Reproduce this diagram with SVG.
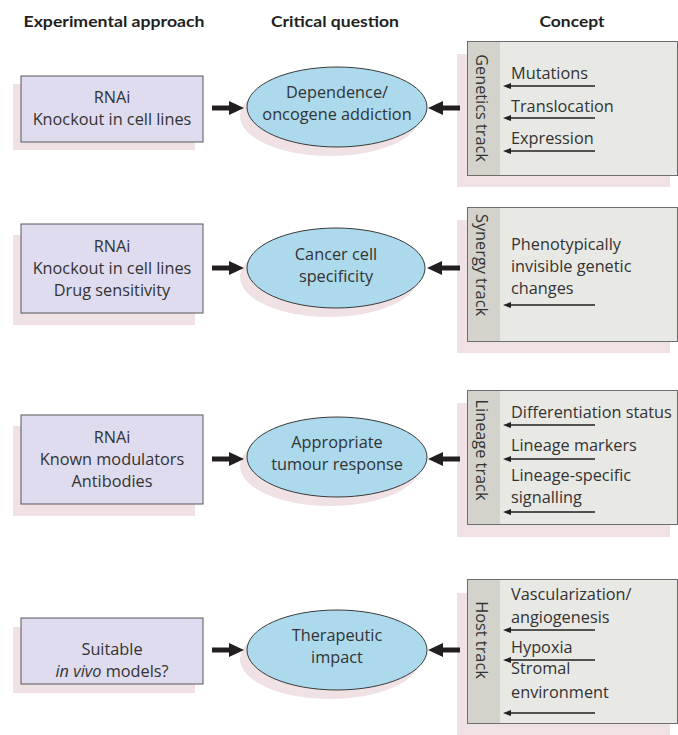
<svg xmlns="http://www.w3.org/2000/svg" width="678" height="735" viewBox="0 0 678 735">
<defs>
<style>
.hdr{font-family:Lato,"Liberation Sans",sans-serif;font-weight:bold;font-size:16px;fill:#231f20;text-anchor:middle}
.t{font-family:"Open Sans","Liberation Sans",sans-serif;font-size:16.3px;fill:#333}
.c{text-anchor:middle}
.shadow{fill:#efe1e4}
.box{fill:#dedcee;stroke:#58585a;stroke-width:1}
.ell{fill:#acd9eb;stroke:#3a3a3a;stroke-width:1}
.cbox{fill:#e8e8e4;stroke:#6d6d6d;stroke-width:1}
.side{fill:#d3d3cb}
.thick{stroke:#231f20;stroke-width:5;fill:none}
.thin{stroke:#231f20;stroke-width:1.6;fill:none}
</style>
<marker id="bigHead" markerUnits="userSpaceOnUse" markerWidth="16" markerHeight="16" refX="6" refY="8" orient="auto">
<path d="M0,1 L15,8 L0,15 z" fill="#231f20"/>
</marker>
<marker id="smallHead" markerUnits="userSpaceOnUse" markerWidth="10" markerHeight="8" refX="2" refY="4" orient="auto">
<path d="M0,1 L8,4 L0,7 z" fill="#231f20"/>
</marker>
</defs>
<rect width="678" height="735" fill="#ffffff"/>

<g id="headers">
<text class="hdr" x="114" y="27" textLength="181" lengthAdjust="spacingAndGlyphs">Experimental approach</text>
<text class="hdr" x="335" y="27" textLength="128" lengthAdjust="spacingAndGlyphs">Critical question</text>
<text class="hdr" x="572" y="27" textLength="65" lengthAdjust="spacingAndGlyphs">Concept</text>
</g>

<!-- Row 1 -->
<g id="approach1">
<rect class="shadow" x="13" y="84" width="182" height="66"/>
<rect class="box" x="21" y="76" width="182" height="66"/>
<text class="t c" x="112" y="103">RNAi</text>
<text class="t c" x="112" y="125">Knockout in cell lines</text>
</g>
<g id="question1">
<ellipse class="shadow" cx="330" cy="116" rx="90" ry="40"/>
<ellipse class="ell" cx="337" cy="107" rx="90" ry="40"/>
<text class="t c" x="337" y="98">Dependence/</text>
<text class="t c" x="337" y="120">oncogene addiction</text>
</g>
<g id="concept1">
<rect class="shadow" x="457" y="54" width="213" height="133"/>
<rect class="cbox" x="467.5" y="41.5" width="210" height="134"/>
<rect class="side" x="468" y="42" width="32" height="133"/>
<text class="t c" transform="translate(476,108) rotate(90)">Genetics track</text>
<text class="t" x="511" y="79">Mutations</text>
<text class="t" x="511" y="112">Translocation</text>
<text class="t" x="511" y="144">Expression</text>
</g>

<!-- Row 2 -->
<g id="approach2">
<rect class="shadow" x="13" y="235" width="182" height="90"/>
<rect class="box" x="21" y="224" width="182" height="89"/>
<text class="t c" x="112" y="252">RNAi</text>
<text class="t c" x="112" y="274">Knockout in cell lines</text>
<text class="t c" x="112" y="296">Drug sensitivity</text>
</g>
<g id="question2">
<ellipse class="shadow" cx="329" cy="277" rx="89" ry="40"/>
<ellipse class="ell" cx="336" cy="268" rx="89" ry="40"/>
<text class="t c" x="336" y="260">Cancer cell</text>
<text class="t c" x="336" y="282">specificity</text>
</g>
<g id="concept2">
<rect class="shadow" x="457" y="220" width="213" height="133"/>
<rect class="cbox" x="467.5" y="207.5" width="210" height="134"/>
<rect class="side" x="468" y="208" width="32" height="133"/>
<text class="t c" transform="translate(476,265) rotate(90)">Synergy track</text>
<text class="t" x="511" y="250">Phenotypically</text>
<text class="t" x="511" y="272">invisible genetic</text>
<text class="t" x="511" y="294">changes</text>
</g>

<!-- Row 3 -->
<g id="approach3">
<rect class="shadow" x="13" y="426" width="182" height="90"/>
<rect class="box" x="21" y="415" width="182" height="89"/>
<text class="t c" x="112" y="443">RNAi</text>
<text class="t c" x="112" y="465">Known modulators</text>
<text class="t c" x="112" y="487">Antibodies</text>
</g>
<g id="question3">
<ellipse class="shadow" cx="330" cy="466" rx="90" ry="40"/>
<ellipse class="ell" cx="337" cy="457" rx="90" ry="40"/>
<text class="t c" x="337" y="448">Appropriate</text>
<text class="t c" x="337" y="470">tumour response</text>
</g>
<g id="concept3">
<rect class="shadow" x="457" y="403" width="213" height="134"/>
<rect class="cbox" x="467.5" y="390.5" width="210" height="134"/>
<rect class="side" x="468" y="391" width="32" height="133"/>
<text class="t c" transform="translate(476,450) rotate(90)">Lineage track</text>
<text class="t" x="511" y="418">Differentiation status</text>
<text class="t" x="511" y="451">Lineage markers</text>
<text class="t" x="511" y="481">Lineage-specific</text>
<text class="t" x="511" y="503">signalling</text>
</g>

<!-- Row 4 -->
<g id="approach4">
<rect class="shadow" x="13" y="627" width="182" height="66"/>
<rect class="box" x="21" y="618" width="182" height="66"/>
<text class="t c" x="112" y="655">Suitable</text>
<text class="t c" x="112" y="677"><tspan font-style="italic">in vivo</tspan> models?</text>
</g>
<g id="question4">
<ellipse class="shadow" cx="330" cy="659" rx="90" ry="40"/>
<ellipse class="ell" cx="337" cy="650" rx="90" ry="40"/>
<text class="t c" x="337" y="641">Therapeutic</text>
<text class="t c" x="337" y="663">impact</text>
</g>
<g id="concept4">
<rect class="shadow" x="457" y="593" width="213" height="142"/>
<rect class="cbox" x="467.5" y="579.5" width="210" height="144"/>
<rect class="side" x="468" y="580" width="32" height="143"/>
<text class="t c" transform="translate(476,640) rotate(90)">Host track</text>
<text class="t" x="511" y="600">Vascularization/</text>
<text class="t" x="511" y="623">angiogenesis</text>
<text class="t" x="511" y="653">Hypoxia</text>
<text class="t" x="511" y="674">Stromal</text>
<text class="t" x="511" y="698">environment</text>
</g>

<g id="connectors">
<line class="thick" x1="212" y1="108" x2="235" y2="108" marker-end="url(#bigHead)"/>
<line class="thick" x1="460" y1="108" x2="437" y2="108" marker-end="url(#bigHead)"/>
<line class="thick" x1="212" y1="268" x2="235" y2="268" marker-end="url(#bigHead)"/>
<line class="thick" x1="460" y1="268" x2="436" y2="268" marker-end="url(#bigHead)"/>
<line class="thick" x1="212" y1="459" x2="235" y2="459" marker-end="url(#bigHead)"/>
<line class="thick" x1="460" y1="459" x2="437" y2="459" marker-end="url(#bigHead)"/>
<line class="thick" x1="212" y1="650" x2="235" y2="650" marker-end="url(#bigHead)"/>
<line class="thick" x1="460" y1="650" x2="437" y2="650" marker-end="url(#bigHead)"/>

<line class="thin" x1="595" y1="86" x2="509" y2="86" marker-end="url(#smallHead)"/>
<line class="thin" x1="595" y1="118" x2="509" y2="118" marker-end="url(#smallHead)"/>
<line class="thin" x1="595" y1="151" x2="509" y2="151" marker-end="url(#smallHead)"/>
<line class="thin" x1="595" y1="305" x2="509" y2="305" marker-end="url(#smallHead)"/>
<line class="thin" x1="595" y1="425" x2="509" y2="425" marker-end="url(#smallHead)"/>
<line class="thin" x1="595" y1="459" x2="509" y2="459" marker-end="url(#smallHead)"/>
<line class="thin" x1="595" y1="512" x2="509" y2="512" marker-end="url(#smallHead)"/>
<line class="thin" x1="595" y1="630" x2="509" y2="630" marker-end="url(#smallHead)"/>
<line class="thin" x1="595" y1="660" x2="509" y2="660" marker-end="url(#smallHead)"/>
<line class="thin" x1="595" y1="713" x2="509" y2="713" marker-end="url(#smallHead)"/>
</g>
</svg>
